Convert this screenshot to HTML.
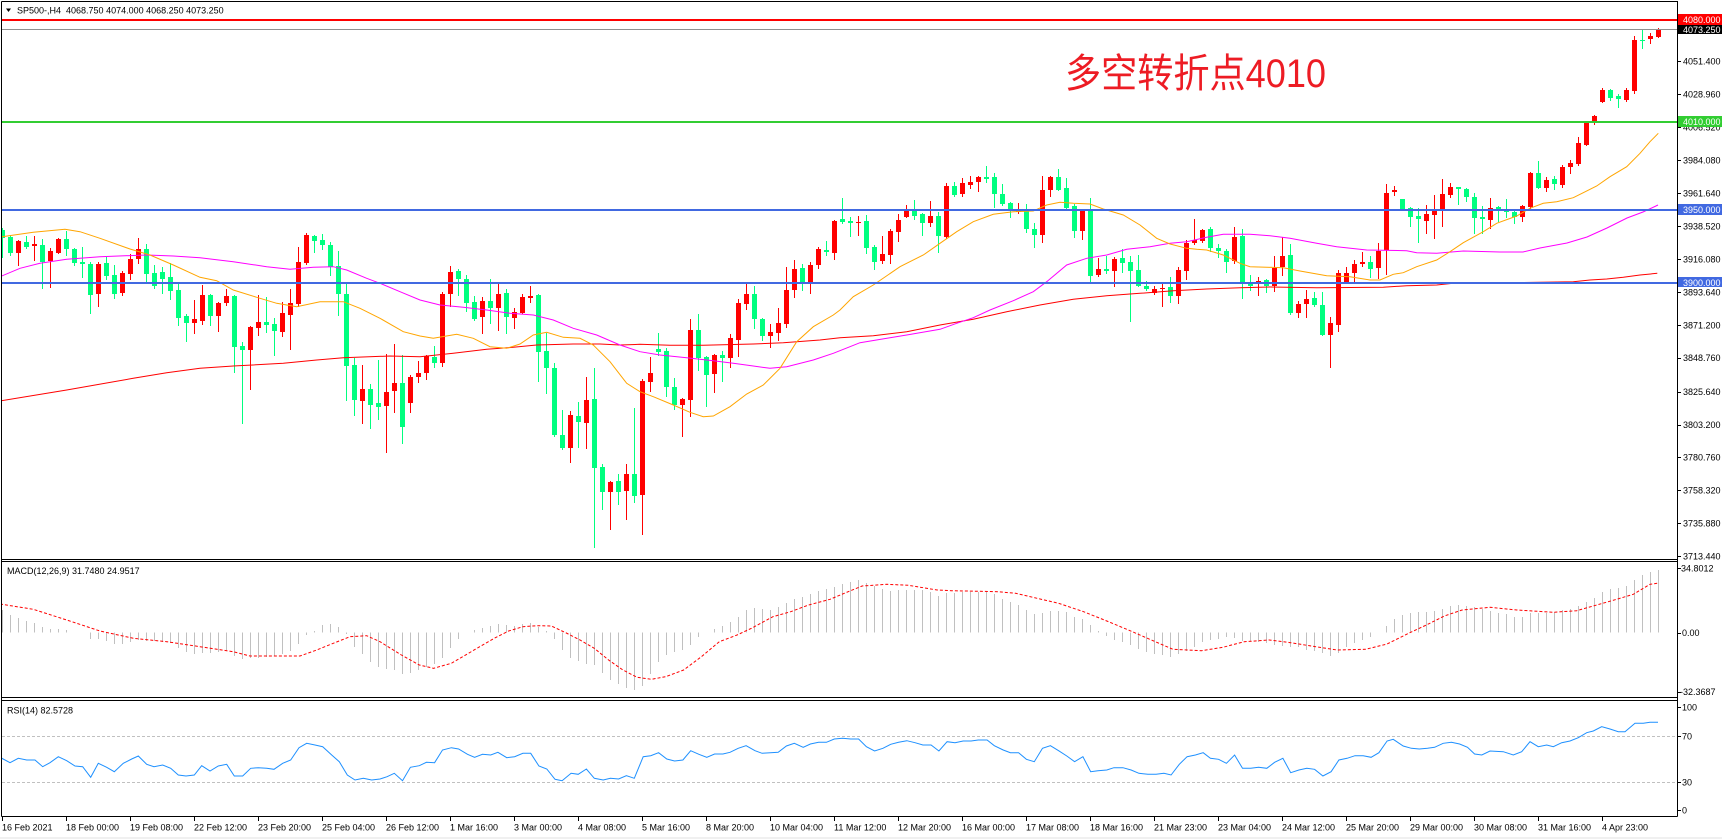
<!DOCTYPE html>
<html><head><meta charset="utf-8"><style>
html,body{margin:0;padding:0;background:#fff;width:1722px;height:839px;overflow:hidden}
svg{display:block}
text{font-family:"Liberation Sans","Noto Sans CJK SC",sans-serif;white-space:pre}
.ax{font-size:9px;fill:#000}
.wl{font-size:9px;fill:#fff}
</style></head><body>
<svg id="s" width="1722" height="839" viewBox="0 0 1722 839" xmlns="http://www.w3.org/2000/svg">
<defs>
<clipPath id="cm"><rect x="2" y="2" width="1675" height="557"/></clipPath>
<clipPath id="cd"><rect x="2" y="562" width="1675" height="135"/></clipPath>
<clipPath id="cr"><rect x="2" y="701" width="1675" height="115"/></clipPath>
</defs>
<rect x="0" y="837" width="1722" height="2" fill="#f0f0f0"/>
<g id="gm" clip-path="url(#cm)"></g>
<g id="gd" clip-path="url(#cd)"></g>
<g id="gr" clip-path="url(#cr)"></g>
<path d="M1.5 1.5H1677.5V816.5M1.5 1.5V816.5M1.5 559.5H1677.5M1.5 561.5H1677.5M1.5 697.5H1677.5M1.5 700.5H1677.5M1.5 816.5H1677.5" stroke="#000" stroke-width="1" fill="none" shape-rendering="crispEdges"/>
<g id="ticks" stroke="#000" stroke-width="1" shape-rendering="crispEdges"></g>

<!-- header -->
<polygon points="6,8.5 11,8.5 8.5,12" fill="#000"/>
<text x="17" y="13.5" class="ax">SP500-,H4  4068.750 4074.000 4068.250 4073.250</text>
<text x="1065" y="87" font-size="40" fill="#ED1C24" textLength="261" lengthAdjust="spacingAndGlyphs">多空转折点4010</text>

<!-- price axis -->
<g class="ax">
<text x="1683" y="64.3">4051.400</text>
<text x="1683" y="97.3">4028.960</text>
<text x="1683" y="130.3">4006.520</text>
<text x="1683" y="163.3">3984.080</text>
<text x="1683" y="196.3">3961.640</text>
<text x="1683" y="229.6">3938.520</text>
<text x="1683" y="262.5">3916.080</text>
<text x="1683" y="295.4">3893.640</text>
<text x="1683" y="328.3">3871.200</text>
<text x="1683" y="361.1">3848.760</text>
<text x="1683" y="395">3825.640</text>
<text x="1683" y="427.8">3803.200</text>
<text x="1683" y="460.7">3780.760</text>
<text x="1683" y="493.6">3758.320</text>
<text x="1683" y="526.4">3735.880</text>
<text x="1683" y="559.3">3713.440</text>
</g>
<rect x="1678" y="14" width="44" height="11" fill="#ff0000"/>
<text x="1683" y="23" class="wl">4080.000</text>
<rect x="1678" y="25" width="44" height="9" fill="#000"/>
<text x="1683" y="33" class="wl">4073.250</text>
<rect x="1678" y="116" width="44" height="11" fill="#32cd32"/>
<text x="1683" y="125" class="wl">4010.000</text>
<rect x="1678" y="204" width="44" height="11" fill="#4169e1"/>
<text x="1683" y="213" class="wl">3950.000</text>
<rect x="1678" y="277" width="44" height="10" fill="#4169e1"/>
<text x="1683" y="285.8" class="wl">3900.000</text>

<!-- indicator titles / axes -->
<g class="ax">
<text x="7" y="574">MACD(12,26,9) 31.7480 24.9517</text>
<text x="7" y="713.5">RSI(14) 82.5728</text>
<text x="1681" y="571.5">34.8012</text>
<text x="1682" y="636">0.00</text>
<text x="1680" y="695">-32.3687</text>
<text x="1682" y="710.3">100</text>
<text x="1682" y="739.6">70</text>
<text x="1682" y="785.6">30</text>
<text x="1682" y="813.6">0</text>
</g>

<!-- time axis -->
<g class="ax">
<text x="2" y="830.5">16 Feb 2021</text>
<text x="66" y="830.5">18 Feb 00:00</text>
<text x="130" y="830.5">19 Feb 08:00</text>
<text x="194" y="830.5">22 Feb 12:00</text>
<text x="258" y="830.5">23 Feb 20:00</text>
<text x="322" y="830.5">25 Feb 04:00</text>
<text x="386" y="830.5">26 Feb 12:00</text>
<text x="450" y="830.5">1 Mar 16:00</text>
<text x="514" y="830.5">3 Mar 00:00</text>
<text x="578" y="830.5">4 Mar 08:00</text>
<text x="642" y="830.5">5 Mar 16:00</text>
<text x="706" y="830.5">8 Mar 20:00</text>
<text x="770" y="830.5">10 Mar 04:00</text>
<text x="834" y="830.5">11 Mar 12:00</text>
<text x="898" y="830.5">12 Mar 20:00</text>
<text x="962" y="830.5">16 Mar 00:00</text>
<text x="1026" y="830.5">17 Mar 08:00</text>
<text x="1090" y="830.5">18 Mar 16:00</text>
<text x="1154" y="830.5">21 Mar 23:00</text>
<text x="1218" y="830.5">23 Mar 04:00</text>
<text x="1282" y="830.5">24 Mar 12:00</text>
<text x="1346" y="830.5">25 Mar 20:00</text>
<text x="1410" y="830.5">29 Mar 00:00</text>
<text x="1474" y="830.5">30 Mar 08:00</text>
<text x="1538" y="830.5">31 Mar 16:00</text>
<text x="1602" y="830.5">4 Apr 23:00</text>
</g>
</svg>
<script>
(function(){
var NS='http://www.w3.org/2000/svg';
function el(p,tag,a){var e=document.createElementNS(NS,tag);for(var k in a)e.setAttribute(k,a[k]);p.appendChild(e);return e;}
var gm=document.getElementById('gm'),gd=document.getElementById('gd'),gr=document.getElementById('gr'),tk=document.getElementById('ticks');
var C=[[230,238,228,257,'g'],[237,253,235,255,'g'],[241,253,240,265,'r'],[242,247,236,248,'g'],[244,246,236,260,'r'],[245,262,239,288,'g'],[251,261,248,287,'r'],[239,253,238,253,'r'],[239,249,231,255,'g'],[249,263,248,265,'g'],
[262,264,247,277,'g'],[264,295,262,313,'g'],[264,294,262,306,'r'],[263,276,257,279,'g'],[275,294,265,298,'g'],[273,293,271,295,'r'],[259,274,254,279,'r'],[249,259,238,263,'r'],[249,274,244,282,'g'],[273,286,265,288,'g'],
[272,279,267,293,'g'],[277,291,263,299,'g'],[290,318,284,325,'g'],[316,323,314,341,'g'],[319,323,300,333,'r'],[295,321,285,324,'r'],[295,316,294,325,'g'],[303,316,302,331,'r'],[296,303,289,305,'r'],[296,347,295,372,'g'],
[346,350,342,423,'g'],[327,350,326,389,'r'],[322,328,295,335,'r'],[322,325,297,332,'g'],[324,331,318,355,'g'],[313,332,302,336,'r'],[303,315,289,349,'r'],[262,304,247,306,'r'],[235,263,233,264,'r'],[236,241,235,252,'g'],
[240,245,234,249,'g'],[245,267,242,275,'g'],[266,294,251,315,'g'],[294,366,283,400,'g'],[365,400,358,415,'g'],[389,401,365,423,'r'],[389,405,384,428,'g'],[403,407,360,419,'g'],[392,406,354,452,'r'],[383,391,344,412,'r'],
[383,427,355,443,'g'],[377,403,375,412,'r'],[373,377,361,382,'r'],[356,373,355,379,'r'],[357,363,346,367,'g'],[294,363,292,366,'r'],[272,294,266,306,'r'],[271,279,269,295,'g'],[279,303,275,311,'g'],[302,319,296,320,'g'],
[301,317,297,333,'r'],[301,308,279,323,'g'],[294,308,284,330,'r'],[293,317,289,333,'g'],[312,318,308,328,'r'],[297,313,294,313,'r'],[296,298,286,302,'r'],[295,352,294,381,'g'],[351,368,333,393,'g'],[368,435,363,436,'g'],
[435,448,410,449,'g'],[415,448,411,462,'r'],[416,422,402,447,'g'],[400,423,377,448,'r'],[399,468,368,547,'g'],[467,492,464,509,'g'],[482,492,481,529,'r'],[481,492,474,504,'g'],[474,491,464,519,'r'],[474,496,408,502,'g'],
[381,495,379,534,'r'],[373,382,357,391,'r'],[349,352,333,355,'g'],[351,387,348,396,'g'],[387,405,378,409,'g'],[399,405,398,436,'r'],[330,400,319,416,'r'],[330,358,314,370,'g'],[357,375,356,406,'g'],[355,374,354,392,'r'],
[355,358,351,381,'g'],[338,358,334,367,'r'],[303,340,299,356,'r'],[294,304,283,309,'r'],[294,319,286,328,'g'],[319,336,318,340,'g'],[332,336,324,347,'r'],[323,333,308,340,'r'],[290,324,267,327,'r'],[269,290,260,297,'r'],
[268,282,264,290,'g'],[265,282,262,293,'r'],[249,265,247,268,'r'],[250,252,241,255,'g'],[221,253,220,259,'r'],[219,222,198,223,'g'],[221,223,217,236,'g'],[222,223,216,235,'r'],[221,248,215,253,'g'],[247,262,245,269,'g'],
[254,261,236,263,'r'],[231,255,229,263,'r'],[220,232,214,241,'r'],[211,217,205,217,'r'],[211,216,200,219,'g'],[214,223,213,235,'g'],[216,223,201,226,'r'],[216,236,212,252,'g'],[186,237,183,238,'r'],[186,195,182,196,'g'],
[183,194,178,196,'r'],[182,185,176,188,'r'],[177,182,176,191,'r'],[177,179,166,182,'g'],[177,194,173,207,'g'],[194,204,184,205,'g'],[203,210,202,217,'g'],[211,212,203,213,'r'],[211,229,204,232,'g'],[229,235,223,247,'g'],
[190,235,176,242,'r'],[177,190,176,196,'r'],[177,190,169,190,'g'],[188,208,178,209,'g'],[206,231,204,237,'g'],[210,231,210,239,'r'],[210,276,198,282,'g'],[269,275,258,276,'r'],[269,271,256,273,'g'],[259,271,257,286,'r'],
[258,263,249,272,'g'],[262,271,256,321,'g'],[270,286,255,286,'g'],[286,289,281,290,'g'],[289,293,286,294,'r'],[288,289,283,306,'r'],[287,296,277,302,'g'],[270,296,267,303,'r'],[243,271,240,279,'r'],[240,243,219,244,'r'],
[230,241,229,242,'r'],[229,248,227,251,'g'],[248,251,244,257,'g'],[251,262,249,272,'g'],[237,261,227,263,'r'],[236,283,229,298,'g'],[283,286,275,290,'g'],[281,284,277,295,'r'],[280,286,279,292,'g'],[268,286,256,291,'r'],
[256,267,237,275,'r'],[255,313,244,314,'g'],[304,313,301,317,'r'],[299,304,290,317,'r'],[298,305,292,306,'g'],[305,335,292,335,'g'],[323,335,317,367,'r'],[273,325,270,331,'r'],[273,283,267,283,'r'],[264,273,260,282,'r'],
[262,264,252,266,'r'],[262,269,256,277,'g'],[251,268,243,278,'r'],[193,250,184,274,'r'],[190,192,186,195,'r'],[199,209,199,209,'g'],[208,217,207,226,'g'],[216,219,208,242,'g'],[214,221,205,233,'r'],[211,215,195,238,'r'],
[194,210,179,226,'r'],[187,195,183,197,'r'],[187,189,187,204,'g'],[189,197,188,201,'g'],[197,218,193,233,'g'],[217,219,206,233,'g'],[208,220,198,228,'r'],[207,210,206,221,'g'],[210,212,199,217,'g'],[212,217,210,223,'g'],
[206,217,205,221,'r'],[173,207,172,208,'r'],[173,188,161,188,'g'],[180,188,177,191,'r'],[179,184,176,189,'g'],[167,185,165,187,'r'],[163,167,160,173,'r'],[143,164,137,165,'r'],[123,145,122,145,'r'],[116,123,115,124,'r'],
[90,102,88,102,'r'],[90,98,89,100,'g'],[96,99,94,107,'g'],[90,100,88,101,'r'],[40,91,36,93,'r'],[40,41,30,48,'g'],[36,39,33,43,'r'],[29,37,28,37,'r']];
var rb='',rw='',gb='',gw='';
for(var i=0;i<C.length;i++){var c=C[i],x=8*i,h=Math.max(1,c[1]-c[0]);
var b='M'+x+' '+c[0]+'h5v'+h+'h-5z',w='M'+(x+2.5)+' '+c[2]+'V'+(c[3]+1);
if(c[4]=='r'){rb+=b;rw+=w;}else{gb+=b;gw+=w;}}
el(gm,'path',{d:gw,stroke:'#00ff7f','stroke-width':1,fill:'none'});
el(gm,'path',{d:rw,stroke:'#ff0000','stroke-width':1,fill:'none'});
el(gm,'path',{d:gb,fill:'#00ff7f'});
el(gm,'path',{d:rb,fill:'#ff0000'});
function P(a){return 'M'+a.map(function(p){return p[0]+','+p[1];}).join('L');}
var OR=[[0,237],[33.3,232.3],[65,229.3],[80,231.7],[100,238.3],[130,249],[150,255],[173.3,265],[200,277.3],[216.7,280.7],[233.3,290],[256.7,297.3],[276.7,303.3],[296.7,306.7],[320,301.7],[343.3,301.7],[360,308.3],[380,318.3],[403.3,331.7],[420,336],[433.3,338.3],[456.7,334.3],[473.3,338.3],[490,346.7],[506.7,348.3],[520,344],[533.3,335],[546.7,332.3],[563.3,337.3],[580,338.3],[593.3,345],[610,361.7],[626.7,383.3],[640,391.7],[653.3,396.7],[673.3,405],[690,412.3],[703.3,416.7],[713.3,416],[730,406.7],[746.7,394],[763.3,385],[780,368.3],[796.7,341.7],[813.3,326.7],[833.3,315],[840,310],[853.3,296.7],[873.3,285],[900,266.7],[923.3,255],[940,243.3],[956.7,231.7],[973.3,221.7],[993.3,214.3],[1013.3,211.7],[1033.3,211],[1046.7,205],[1060,202.3],[1073.3,203.3],[1090,204],[1103.3,209],[1123.3,215],[1140,225],[1156.7,238.3],[1170,244],[1186.7,248.3],[1196.7,249.3],[1206.7,250],[1223.3,255],[1240,263.3],[1250,266.7],[1283.3,267.7],[1300,271],[1326.7,275.7],[1350,276.7],[1370,280],[1380,280],[1393.3,274.3],[1403.3,272.7],[1416.7,266.7],[1436.7,260],[1450,251.7],[1463.3,242.7],[1483.3,231.7],[1496.7,223.3],[1516.7,216],[1530,208.3],[1543.3,203.3],[1556.7,201.7],[1573.3,197.7],[1583.3,192.7],[1596.7,186],[1610,176.7],[1626.7,166.7],[1640,153.3],[1650,141.7],[1658.3,133.3]];
var MG=[[0,276.7],[20,268.3],[40,263.3],[66.7,259.3],[100,256.7],[146.7,255],[173.3,256],[200,257.7],[233.3,261.7],[266.7,266.7],[290,269.3],[313.3,267.3],[333.3,266.7],[346.7,270],[366.7,278.3],[380,283.3],[400,291.7],[420,300],[440,305],[463.3,307.3],[486.7,310],[510,313.3],[533.3,315],[553.3,320],[573.3,328.3],[596.7,335],[620,345],[640,351.7],[660,355],[686.7,357.7],[713.3,360.7],[733.3,363.3],[753.3,366],[770,368.3],[786.7,366.7],[813.3,360],[833.3,353.3],[850,346.7],[860,342.7],[890,337.7],[906.7,335],[940,329.3],[956.7,323.3],[973.3,317.7],[990,310],[1013.3,300.7],[1033.3,291.7],[1046.7,281.7],[1066.7,265],[1086.7,258.3],[1106.7,255],[1126.7,249.3],[1150,246.7],[1170,243.3],[1186.7,241.7],[1206.7,237.3],[1223.3,234.3],[1250,234.3],[1270,235.7],[1290,238.3],[1316.7,243.3],[1336.7,246.7],[1366.7,250],[1406.7,250.7],[1416.7,252.7],[1436.7,253.3],[1463.3,251],[1500,252],[1523,252],[1540,248],[1567,243],[1587,237],[1607,228],[1627,218],[1643,212],[1658,205]];
var RD=[[0,401],[66.7,390],[133.3,378.3],[166.7,372.7],[200,368.3],[233.3,366],[283.3,363.3],[316.7,360],[343.3,357.7],[390,356],[420,356.7],[453.3,353.3],[486.7,349.3],[513.3,347.3],[536.7,345],[573.3,344],[600,344],[620,345],[640,344.3],[670,345.3],[703.3,345.3],[753.3,344],[783.3,342.7],[820,340],[840,337.7],[873.3,335.7],[906.7,331.7],[940,325],[973.3,319.3],[1006.7,311.7],[1040,305],[1073.3,299.3],[1106.7,295.7],[1140,293.3],[1173.3,290.7],[1206.7,289],[1240,287.7],[1270,287],[1316.7,287.7],[1383.3,287.3],[1406.7,285.7],[1436.7,285],[1453.3,283.3],[1476.7,283.3],[1573.3,281.7],[1590,280],[1606.7,279],[1623.3,277.3],[1640,275],[1657.3,273.3]];
el(gm,'path',{d:P(RD),stroke:'#ff0000','stroke-width':1,fill:'none'});
el(gm,'path',{d:P(MG),stroke:'#ff00ff','stroke-width':1,fill:'none'});
el(gm,'path',{d:P(OR),stroke:'#ffa500','stroke-width':1,fill:'none'});
el(gm,'rect',{x:1,y:19,width:1677,height:2,fill:'#ff0000'});
el(gm,'rect',{x:1,y:29,width:1677,height:1,fill:'#909090'});
el(gm,'rect',{x:1,y:121,width:1677,height:2,fill:'#32cd32'});
el(gm,'rect',{x:1,y:209,width:1677,height:2,fill:'#4169e1'});
el(gm,'rect',{x:1,y:282,width:1677,height:2,fill:'#4169e1'});
// MACD histogram
var H5=[610,615,618.3,621,622.7,626.7,629,629,630,632,633.3,639,639,640.7,644,644,641.7,640,640.7,641,641.7,642.7,647.7,651.7,654,653.3,653.3,652.3,651,655.7,659,658.3,657.7,656.7,655.7,654,650.7,644,635,630.7,625,624,627.3,634,646.7,654,661.7,666.7,669.3,670];
var Z10=[669.3,669.3,675,672.7,669.3,665,662.7,652.7,641.7,632.7,631,628.3,626.7,624,625,625.7,624,622.7,628.3,632.7,645,656,660,664,663.3,671.7,679.3,684.3,687.7,690.7,685,670,659,652.7,650.7,649.3,639,632.7,630,626.7,622.7,616.7,610,607.7,609.3,610,606,600.7,598.3,595.7,592.3,590,587.3,584,581.7,580,583.3,586.7,590,590.7,589.3,590,589.3,590.7,596];
var Z11=[591.7,596,592.7,592.7,591.7,591.7,591.7,591.7,597.3,601.7,604,609,614,612.7,611,611,612.7,618.3,619.3,628.3,632.7,638.3,641,642.7,648.3,651.7,653.3,655,656.7,654.3,650.7,646,641,639.3,638.3,636,640,641.7,641,643.3,644.3,646,646.7,647.3,650,651,653.3,656.7,650,645,641,638.3,634,627.7,619.3,615,613.3,611.7,611.7,611,608.3,606,605,605,608.3];
var Z4=[606,605,606,607.3,609.3,611,612.7,614,616.7,616.7,613.3,612.7,612.7,611.7,610,609.3,606,601.7,597.7,592,589,587.7,585.7,580,575,572.3,570];
var pts=[];
H5.forEach(function(v,j){pts.push([j,v]);});
Z10.forEach(function(v,k){var j=(24*(48+k)-75.6)/22.4;if(j>49.5&&j<=116.3)pts.push([j,v]);});
Z11.forEach(function(v,k){var j=(24*(116+k)-185.6)/22.4;if(j>116.3&&j<180.5)pts.push([j,v]);});
Z4.forEach(function(v,k){pts.push([181+k,v]);});
pts.sort(function(a,b){return a[0]-b[0];});
function itp(j){for(var k=0;k<pts.length-1;k++){if(pts[k][0]<=j&&pts[k+1][0]>=j){var d=pts[k+1][0]-pts[k][0];var t=d?(j-pts[k][0])/d:0;return pts[k][1]+t*(pts[k+1][1]-pts[k][1]);}}return pts[pts.length-1][1];}
var hd='';
for(var i=0;i<208;i++){var v=Math.round(itp(i));if(Math.abs(v-632.5)<0.6)continue;hd+='M'+(8*i+2.5)+' 632.5V'+v;}
el(gd,'path',{d:hd,stroke:'#c0c0c0','stroke-width':1,fill:'none'});
var SG=[[0,604],[33.3,609.3],[66.7,620],[100,631],[133.3,638.3],[166.7,641.7],[200,646.7],[233.3,651.7],[250,656],[300,656],[316.7,650],[333.3,643.3],[350,636.7],[366.7,635.7],[380,641.7],[401.4,655],[419.3,665],[433.6,668.3],[451.4,663.3],[472.9,650.7],[494.3,638.3],[508.6,631],[522.9,626.7],[537.1,625.7],[551.4,626],[565.7,632.7],[580,640],[594.3,648.3],[608.6,660],[622.9,670],[637.1,677.3],[651.4,679.3],[665.7,676.7],[683.6,670],[701.4,656.7],[719.3,641.7],[737.1,635],[751.4,628.3],[772.9,616.7],[790.7,611.7],[808.6,605],[830,599.3],[844.3,593.3],[862.1,586],[887.1,584.3],[908.6,585.3],[937.1,590],[951.4,590.7],[997.9,591.7],[1015.7,593.3],[1037.1,598.3],[1058.6,603.3],[1083.6,611.7],[1108.6,621.7],[1130,630.7],[1151.4,640],[1172.9,649.3],[1201.4,650.7],[1222.9,647.3],[1244.3,641.7],[1269.3,640],[1290.7,642.7],[1315.7,646.7],[1337.1,650],[1365.7,649.3],[1387.1,644],[1408.6,633.3],[1426.4,625],[1444.3,616],[1462.1,610],[1490,607.3],[1516.7,610],[1553.3,612.3],[1576.7,610.7],[1596.7,605],[1616.7,599.3],[1633.3,594.3],[1650,584.3],[1659,583]];
el(gd,'path',{d:P(SG),stroke:'#ff0000','stroke-width':1,fill:'none','stroke-dasharray':'3 2'});
// RSI
el(gr,'path',{d:'M2 736.5H1677M2 782.5H1677',stroke:'#c0c0c0','stroke-width':1,'stroke-dasharray':'3 2',fill:'none'});
var R5=[[0,757.3],[10,762.7],[18.3,758.3],[26.7,760],[35,760],[42.7,766.7],[50,762.7],[58.3,756.7],[66.7,760.7],[75,766],[82.7,766.7],[90.7,777.3],[98.3,763.3],[106.7,767.3],[114.3,771.7],[123.3,763.3],[131.7,759],[138.3,756],[146.7,764.3],[154,766.7],[162.7,765],[170.7,768.3],[178.3,775],[186,776],[194.3,775],[201.7,765.7],[210,771],[218.3,766],[226.7,764.3],[234.3,776],[242.7,776],[250.7,768.3],[258.3,767.7],[266.7,768.3],[274,769.3],[282.7,763.3],[290.7,760],[299,747.7],[306.7,743.3],[315,745],[322.7,746.7],[331.7,755],[339.3,761.7],[347.3,775],[355,780],[363.3,778.3],[371.7,780]];
var R10=[[0,657],[20,650],[40,640],[63,662],[85,622],[110,617],[130,607],[153,608],[175,570],[200,563],[220,567],[245,583],[265,592],[287,583],[310,585],[330,577],[355,593],[377,590],[400,580],[422,580],[445,618],[467,627],[490,658],[510,662],[535,640],[555,643],[578,627],[600,655],[625,660],[645,655],[668,657],[690,647],[712,655],[737,590],[758,587],[780,578],[803,597],[825,603],[848,600],[870,572],[893,583],[915,592],[937,582],[960,582],[980,577],[1003,565],[1025,557],[1050,572],[1070,580],[1093,578],[1115,577],[1138,558],[1160,550],[1185,562],[1205,552],[1228,547],[1250,547],[1272,537],[1295,535],[1318,537],[1340,537],[1362,560],[1385,573],[1408,565],[1430,553],[1452,547],[1475,542],[1498,548],[1520,555],[1543,555],[1565,573]];
var R11=[[48,545],[70,548],[93,543],[115,543],[135,540],[160,540],[180,557],[205,570],[225,578],[248,578],[270,598],[292,605],[315,565],[337,557],[360,572],[383,588],[405,605],[428,590],[450,635],[470,632],[495,630],[515,623],[540,623],[563,630],[585,640],[610,643],[633,643],[655,640],[675,645],[698,613],[720,590],[743,585],[765,578],[785,595],[808,598],[830,610],[853,585],[875,625],[898,625],[920,622],[943,625],[965,607],[988,595],[1010,638],[1033,630],[1055,625],[1077,628],[1100,648],[1123,635],[1145,600],[1168,595],[1190,587],[1213,587],[1235,592],[1257,578],[1280,543],[1297,538],[1325,558],[1348,565],[1370,567],[1393,565],[1413,562],[1437,550],[1460,547],[1483,552],[1505,562],[1525,582],[1545,585],[1568,573]];
var R4=[[1503.3,751.7],[1513.3,755],[1521.7,751.7],[1530,741.7],[1538.3,746.7],[1546.7,745],[1553.3,746.7],[1561.7,742.7],[1570,741],[1578.3,737.7],[1586.7,732.7],[1593.3,731],[1601.7,726.7],[1610,729],[1618.3,731.7],[1625,731.7],[1635,723.3],[1643.3,723.3],[1650,722.3],[1658,722.3]];
var RS=R5.slice();
R10.forEach(function(p){RS.push([+(380+p[0]/2.8).toFixed(1),+(560+p[1]/3).toFixed(1)]);});
R11.forEach(function(p){RS.push([+(930+p[0]/2.8).toFixed(1),+(560+p[1]/3).toFixed(1)]);});
R4.forEach(function(p){RS.push(p);});
el(gr,'path',{d:P(RS),stroke:'#1e90ff','stroke-width':1,fill:'none'});
// ticks
var td='';
[61,94,127,160,193,226.3,259.2,292.1,325,357.8,391.7,424.5,457.4,490.3,523.1,556,568,633,692,707,736,782,810].forEach(function(y){var yy=Math.round(y)+0.5;td+='M1677 '+yy+'H1681';});
for(var k=0;k<26;k++){td+='M'+(2+64*k+0.5)+' 817V821';}
el(tk,'path',{d:td});
})();
</script>
</body></html>
